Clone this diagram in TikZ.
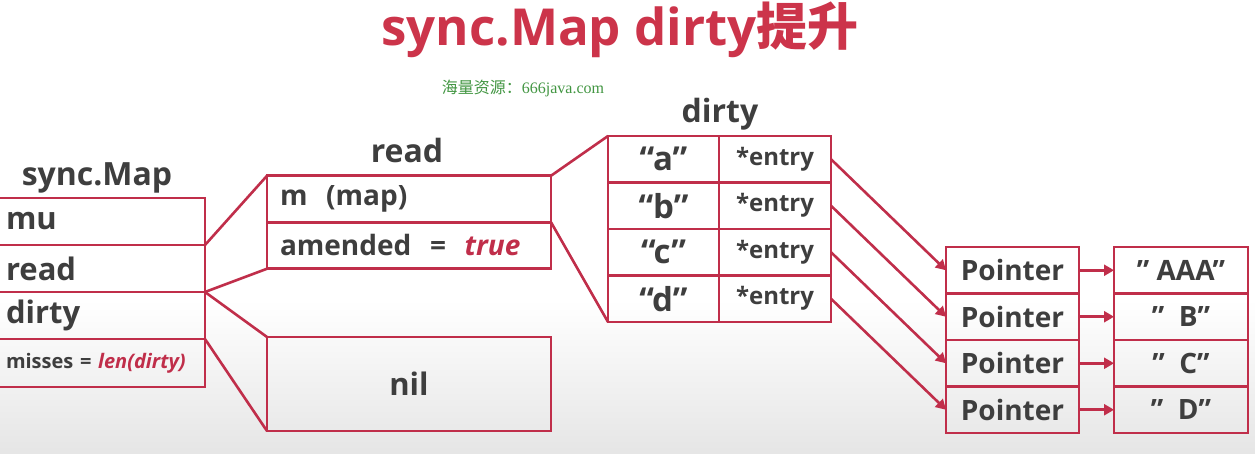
\documentclass[tikz,border=0pt]{standalone}
\usepackage{fontspec}
\setmainfont{Open Sans}
\newfontfamily\cjkfont{Noto Sans CJK SC}
\newfontfamily\markfont{Liberation Serif}
\usetikzlibrary{arrows.meta}

\definecolor{mapred}{RGB}{192, 46, 74}
\definecolor{titlered}{RGB}{204, 52, 74}
\definecolor{mapgray}{RGB}{62, 62, 62}
\definecolor{markgreen}{RGB}{66, 150, 66}

\newcommand{\setfs}[1]{\fontsize{#1}{#1}\selectfont}

\begin{document}
\begin{tikzpicture}[
    x=1pt, y=-1pt,
    cell/.style={draw=mapred, line width=2.6pt, inner sep=0pt, outer sep=0pt,
      text=mapgray, font=\bfseries\setfs{31}},
    smcell/.style={cell, minimum height=47pt, text width=189pt, inner xsep=10pt, align=left},
    rdcell/.style={cell, minimum height=46.5pt, text width=258pt, inner xsep=13pt, align=left,
      font=\bfseries\setfs{28}},
    keycell/.style={cell, minimum width=111pt, minimum height=46.5pt, font=\bfseries\setfs{33}},
    entrycell/.style={cell, minimum width=112pt, minimum height=46.5pt, font=\bfseries\setfs{24}},
    ptrcell/.style={cell, minimum width=133pt, minimum height=46.5pt, font=\bfseries\setfs{28}},
    valcell/.style={cell, minimum width=134pt, minimum height=46.5pt, font=\bfseries\setfs{28}},
    label/.style={anchor=base, text=mapgray, font=\bfseries\setfs{32}, inner sep=0pt},
    link/.style={draw=mapred, line width=2.6pt},
    arr/.style={draw=mapred, line width=2.6pt, -{Triangle[length=10pt, width=11pt]}},
  ]
    % --- background ---
    \fill[white] (0,0) rectangle (1255,454);
    \shade[top color=white, bottom color=black!10] (0,300) rectangle (1255,454);
    \clip (0,0) rectangle (1255,454);
    \useasboundingbox (0,0) rectangle (1255,454);

    % --- title and mark ---
    \node[anchor=base, inner sep=0pt, text=titlered, font=\bfseries\setfs{51}] (title)
      at (620,46) {sync.Map dirty{\cjkfont\bfseries 提升}};
    \node[anchor=base, inner sep=0pt, text=markgreen, font=\setfs{16}] (mark)
      at (523,94) {{\cjkfont 海量资源：}{\markfont 666java.com}};

    % === sync.Map ===
    \node[label] (smlabel) at (97,186) {sync.Map};
    \foreach \name/\txt [count=\i from 0] in {mu/mu, rd/read, dt/dirty} {
      \node[smcell] (sm\name) at (100.5, 221.5+\i*47) {\txt};
    }
    \node[smcell, minimum height=48pt, font=\bfseries\setfs{20}] (smms) at (100.5,363)
      {misses = \textcolor{mapred}{\itshape len(dirty)}};

    % === read ===
    \node[label] (rdlabel) at (407,163) {read};
    \node[rdcell] (rdm) at (409,199) {m\ \ (map)};
    \node[rdcell] (rdam) at (409,245.5)
      {amended\ \ =\ \ \textcolor{mapred}{\itshape true}};

    % === nil ===
    \node[cell, minimum width=284pt, minimum height=94pt] (nil) at (409,384) {nil};

    % === dirty ===
    \node[label] (dtlabel) at (720,123) {dirty};
    \foreach \k [count=\i] in {a,b,c,d} {
      \node[keycell] (dk\i) at (663.5, 112.75+\i*46.5) {“\k”};
      \node[entrycell] (de\i) at (775, 112.75+\i*46.5) {*entry};
    }

    % === Pointer -> value ===
    \foreach \v [count=\i] in {{” AAA”}, {”\ \ B”}, {”\ \ C”}, {”\ \ D”}} {
      \node[ptrcell] (pt\i) at (1012.5, 223.75+\i*46.5) {Pointer};
      \node[valcell] (vl\i) at (1181, 223.75+\i*46.5) {\v};
    }

    % --- connectors ---
    \draw[link] (smmu.south east) -- (rdm.north west);
    \draw[link] (smrd.south east) -- (rdam.south west);
    \draw[link] (smrd.south east) -- (nil.north west);
    \draw[link] (smdt.south east) -- (nil.south west);
    \draw[link] (rdm.north east) -- (dk1.north west);
    \draw[link] (rdm.south east) -- (dk4.south west);
    \foreach \i in {1,...,4} {
      \draw[arr] (de\i.east) -- (pt\i.west);
      \draw[arr] (pt\i.east) -- (vl\i.west);
    }
  \end{tikzpicture}
\end{document}
